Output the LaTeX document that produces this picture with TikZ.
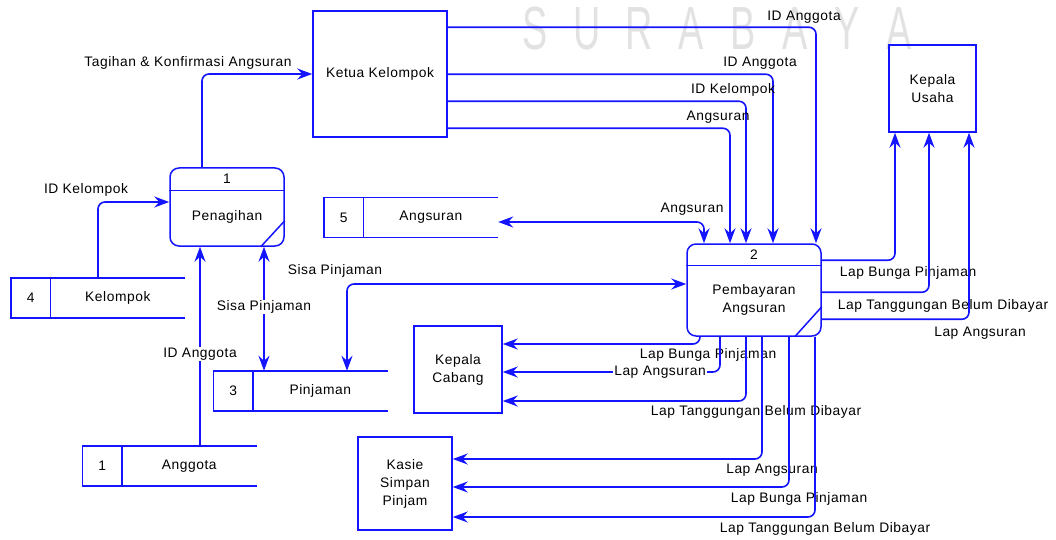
\documentclass[tikz,border=0pt]{standalone}
\usepackage{fontspec}
\usepackage{graphicx}
\setmainfont{Liberation Sans}[LetterSpace=4]
\newfontfamily\wmfont{Liberation Sans}
\usetikzlibrary{arrows.meta,calc}
\definecolor{dfd}{RGB}{20,20,255}
\definecolor{wm}{RGB}{226,226,226}
\newcommand\dfdstore[5]{%
  \node[store] (#1) at (#2,#3) {};
  \draw[sline] (#1.north east) -- (#1.north west) -- (#1.south west) -- (#1.south east);
  \draw[sline] ([xshift=39.5pt]#1.north west) -- ([xshift=39.5pt]#1.south west);
  \node (#1num) at ($(#1.west)+(20,0)$) {#4};
  \node (#1name) at ($(#1.west)+(107,0)$) {#5};
}
\begin{document}
\begin{tikzpicture}[x=1pt,y=-1pt,
  every node/.style={font=\fontsize{13.8}{18}\selectfont, text=black, align=center},
  ent/.style={draw=dfd, line width=1.5pt, rectangle, inner sep=0pt},
  proc/.style={draw=dfd, line width=1.5pt, rounded corners=9pt, inner sep=0pt},
  store/.style={inner sep=0pt, minimum width=174pt, minimum height=40pt},
  sline/.style={draw=dfd, line width=1.5pt},
  flow/.style={draw=dfd, line width=1.6pt, rounded corners=7pt, -{Stealth[length=15pt,width=11pt,inset=5pt]}},
  bflow/.style={draw=dfd, line width=1.6pt, rounded corners=7pt, {Stealth[length=15pt,width=11pt,inset=5pt]}-{Stealth[length=15pt,width=11pt,inset=5pt]}},
  lbl/.style={inner sep=1pt},
  lblw/.style={fill=white, inner sep=1pt}]
\useasboundingbox (0,0) rectangle (1056,540);

% watermark
\node[font=\wmfont\fontsize{61}{61}\selectfont, text=wm, inner sep=0pt] (wmark) at (717,29)
  {\scalebox{0.62}[1]{\makebox[84pt]{S}\makebox[84pt]{U}\makebox[84pt]{R}\makebox[84pt]{A}\makebox[84pt]{B}\makebox[84pt]{A}\makebox[84pt]{Y}\makebox[84pt]{A}}};

% external entities
\node[ent, minimum width=134pt, minimum height=126pt] (ketua) at (380,74) {Ketua Kelompok};
\node[ent, minimum width=87pt, minimum height=87pt] (kusaha) at (932.5,88.5) {Kepala\\Usaha};
\node[ent, minimum width=88pt, minimum height=87pt] (kcabang) at (458,369.5) {Kepala\\Cabang};
\node[ent, minimum width=94pt, minimum height=93pt] (kasie) at (405,483.5) {Kasie\\Simpan\\Pinjam};

% processes
\node[proc, minimum width=114pt, minimum height=78pt] (p1) at (227,207) {};
\draw[sline] ([yshift=-23pt]p1.north west) -- ([yshift=-23pt]p1.north east);
\draw[sline] ([xshift=-24pt]p1.south east) -- ([yshift=26pt]p1.south east);
\node (p1num) at ($(p1.north)+(0,12)$) {1};
\node (p1name) at ($(p1.north)+(0,50)$) {Penagihan};

\node[proc, minimum width=134pt, minimum height=92pt] (p2) at (754,290) {};
\draw[sline] ([yshift=-22pt]p2.north west) -- ([yshift=-22pt]p2.north east);
\draw[sline] ([xshift=-27pt]p2.south east) -- ([yshift=30pt]p2.south east);
\node (p2num) at ($(p2.north)+(0,11)$) {2};
\node (p2name) at ($(p2.north)+(0,57)$) {Pembayaran\\Angsuran};

% data stores
\dfdstore{s5}{411}{217.5}{5}{Angsuran}
\dfdstore{s4}{98}{298}{4}{Kelompok}
\dfdstore{s3}{300.5}{391}{3}{Pinjaman}
\dfdstore{s1}{169.5}{466}{1}{Anggota}

% flows around process 1
\draw[flow] ([xshift=-25pt]p1.north) |- (ketua.west);
\node[lbl] (l1) at (188,63) {Tagihan \& Konfirmasi Angsuran};
\draw[flow] (s4.north) |- ([yshift=5pt]p1.west);
\node[lbl] (l2) at (86,190) {ID Kelompok};
\draw[flow] ([xshift=30.5pt]s1.north) -- ([xshift=-27pt]p1.south);
\node[lblw] (l3) at (200,354) {ID Anggota};
\draw[bflow] ([xshift=37pt]p1.south) -- ([xshift=-36.5pt]s3.north);
\node[lblw] (l4) at (264,307) {Sisa Pinjaman};

% process 2 <-> stores
\draw[bflow] ([yshift=6pt]p2.west) -| ([xshift=46.5pt]s3.north);
\node[lbl] (l5) at (335,271) {Sisa Pinjaman};
\draw[bflow] ([xshift=-50pt]p2.north) |- ([yshift=-4.5pt]s5.east);
\node[lbl] (l6) at (692,209) {Angsuran};

% ketua -> process 2
\draw[flow] ([yshift=-17pt]ketua.north east) -| ([xshift=62pt]p2.north);
\node[lbl] (l7) at (804,17) {ID Anggota};
\draw[flow] ([yshift=-64pt]ketua.north east) -| ([xshift=19pt]p2.north);
\node[lbl] (l8) at (760,63) {ID Anggota};
\draw[flow] ([yshift=-91pt]ketua.north east) -| ([xshift=-8pt]p2.north);
\node[lbl] (l9) at (733,90) {ID Kelompok};
\draw[flow] ([yshift=-118pt]ketua.north east) -| ([xshift=-24pt]p2.north);
\node[lbl] (l10) at (718,117) {Angsuran};

% process 2 -> kepala usaha
\draw[flow] ([yshift=-17pt]p2.north east) -| ([xshift=-37.5pt]kusaha.south);
\node[lbl] (l11) at (908,273) {Lap Bunga Pinjaman};
\draw[flow] ([yshift=-49pt]p2.north east) -| ([xshift=-3.5pt]kusaha.south);
\node[lbl] (l12) at (943,306) {Lap Tanggungan Belum Dibayar};
\draw[flow] ([yshift=-76pt]p2.north east) -| ([xshift=36.5pt]kusaha.south);
\node[lbl] (l13) at (980,333) {Lap Angsuran};

% process 2 -> kepala cabang
\draw[flow] ([xshift=-54pt]p2.south) |- ([yshift=25.5pt]kcabang.east);
\node[lbl] (l14) at (708,355) {Lap Bunga Pinjaman};
\draw[flow] ([xshift=-34pt]p2.south) |- ([yshift=-2.5pt]kcabang.east);
\node[lblw] (l15) at (660,372) {Lap Angsuran};
\draw[flow] ([xshift=-8pt]p2.south) |- ([yshift=-31.5pt]kcabang.east);
\node[lbl] (l16) at (756,412) {Lap Tanggungan Belum Dibayar};

% process 2 -> kasie
\draw[flow] ([xshift=8pt]p2.south) |- ([yshift=24.5pt]kasie.east);
\node[lbl] (l17) at (772,470) {Lap Angsuran};
\draw[flow] ([xshift=35pt]p2.south) |- ([yshift=-3.5pt]kasie.east);
\node[lbl] (l18) at (799,499) {Lap Bunga Pinjaman};
\draw[flow] ([xshift=61pt]p2.south) |- ([yshift=-33.5pt]kasie.east);
\node[lbl] (l19) at (825,529) {Lap Tanggungan Belum Dibayar};
\end{tikzpicture}
\end{document}
